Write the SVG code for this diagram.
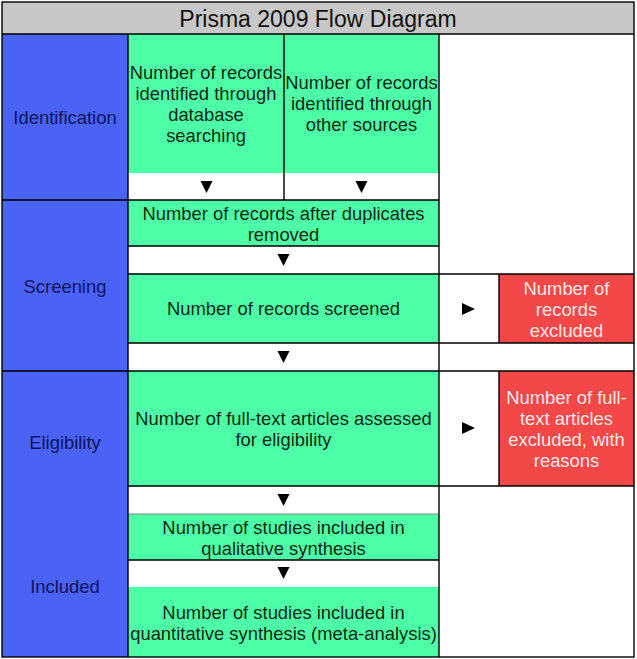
<svg xmlns="http://www.w3.org/2000/svg" width="637" height="659" viewBox="0 0 637 659">
<style>
.t{font-family:"Liberation Sans",Arial,sans-serif;font-size:18.4px;text-anchor:middle}
.g{fill:#4dffa6}
.b{fill:#4a62f6}
.r{fill:#f44848}
.w{fill:#ffffff}
.gt{fill:#0f2a12}
.bt{fill:#0e1460}
.rt{fill:#ffe6e6}
.ln{stroke:#000;stroke-width:1.4;fill:none}
.arr{fill:#000}
</style>
<rect x="0" y="0" width="637" height="659" fill="#fff"/>
<g id="title">
<rect x="2" y="2" width="632" height="32" fill="#c8c8c8"/>
<text class="t" x="318" y="27" style="font-size:23px" fill="#111">Prisma 2009 Flow Diagram</text>
</g>
<g id="phase-identification">
<rect class="b" x="2" y="34" width="126" height="166"/>
<text class="t bt" x="65" y="124">Identification</text>
</g>
<g id="phase-screening">
<rect class="b" x="2" y="200" width="126" height="171"/>
<text class="t bt" x="65" y="293">Screening</text>
</g>
<g id="phase-eligibility-included">
<rect class="b" x="2" y="371" width="126" height="286"/>
<text class="t bt" x="65" y="449">Eligibility</text>
<text class="t bt" x="65" y="593">Included</text>
</g>
<g id="cells">
<rect class="w" x="128" y="173" width="311" height="27"/>
<rect class="w" x="128" y="246" width="311" height="28"/>
<rect class="w" x="128" y="343" width="311" height="28"/>
<rect class="w" x="128" y="486" width="311" height="28"/>
<rect class="w" x="128" y="560" width="311" height="27"/>
<rect class="w" x="439" y="34" width="195" height="623"/>
</g>
<g id="node-db">
<rect class="g" x="128" y="34" width="156" height="139"/>
<text class="t gt" x="206" y="79">Number of records</text>
<text class="t gt" x="206" y="100">identified through</text>
<text class="t gt" x="206" y="121">database</text>
<text class="t gt" x="206" y="142">searching</text>
</g>
<g id="node-other">
<rect class="g" x="284" y="34" width="155" height="139"/>
<text class="t gt" x="361.5" y="89">Number of records</text>
<text class="t gt" x="361.5" y="110">identified through</text>
<text class="t gt" x="361.5" y="131">other sources</text>
</g>
<g id="node-duplicates">
<rect class="g" x="128" y="200" width="311" height="46"/>
<text class="t gt" x="283.5" y="220">Number of records after duplicates</text>
<text class="t gt" x="283.5" y="241">removed</text>
</g>
<g id="node-screened">
<rect class="g" x="128" y="274" width="311" height="69"/>
<text class="t gt" x="283.5" y="315">Number of records screened</text>
</g>
<g id="node-excluded">
<rect class="r" x="499" y="274" width="135" height="69"/>
<text class="t rt" x="566.5" y="295">Number of</text>
<text class="t rt" x="566.5" y="316">records</text>
<text class="t rt" x="566.5" y="337">excluded</text>
</g>
<g id="node-fulltext">
<rect class="g" x="128" y="371" width="311" height="115"/>
<text class="t gt" x="283.5" y="425">Number of full-text articles assessed</text>
<text class="t gt" x="283.5" y="446">for eligibility</text>
</g>
<g id="node-fulltext-excluded">
<rect class="r" x="499" y="371" width="135" height="115"/>
<text class="t rt" x="566.5" y="404">Number of full-</text>
<text class="t rt" x="566.5" y="425">text articles</text>
<text class="t rt" x="566.5" y="446">excluded, with</text>
<text class="t rt" x="566.5" y="467">reasons</text>
</g>
<g id="node-qualitative">
<rect class="g" x="128" y="514" width="311" height="46"/>
<text class="t gt" x="283.5" y="534">Number of studies included in</text>
<text class="t gt" x="283.5" y="555">qualitative synthesis</text>
</g>
<g id="node-quantitative">
<rect class="g" x="128" y="587" width="311" height="70"/>
<text class="t gt" x="283.5" y="619">Number of studies included in</text>
<text class="t gt" x="283.5" y="640">quantitative synthesis (meta-analysis)</text>
</g>
<g id="grid">
<rect class="ln" x="2" y="2" width="632" height="655"/>
<path class="ln" d="M2 34H634M2 200H439M128 246H439M128 274H634M128 343H634M2 371H634M128 486H634M128 560H439"/>
<path d="M128 514H439" stroke="#888" stroke-width="1" fill="none"/>
<path class="ln" d="M128 34V657M284 34V200M439 34V657M499 274V343M499 371V486"/>
</g>
<g id="connectors">
<polygon class="arr" points="200.5,181 212.5,181 206.5,193"/>
<polygon class="arr" points="355.5,181 367.5,181 361.5,193"/>
<polygon class="arr" points="277.5,254 289.5,254 283.5,266"/>
<polygon class="arr" points="277.5,351 289.5,351 283.5,363"/>
<polygon class="arr" points="277.5,494 289.5,494 283.5,506"/>
<polygon class="arr" points="277.5,567 289.5,567 283.5,579"/>
<polygon class="arr" points="462,303 475,309 462,315"/>
<polygon class="arr" points="462,422 475,428 462,434"/>
</g>
</svg>
